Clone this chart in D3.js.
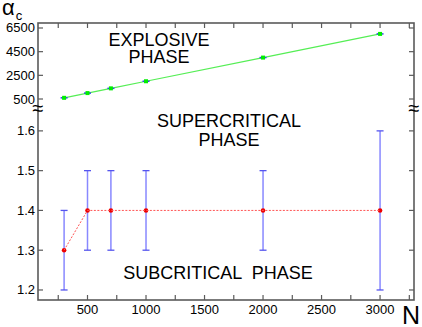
<!DOCTYPE html>
<html>
<head>
<meta charset="utf-8">
<script src="https://cdn.jsdelivr.net/npm/d3@7"></script>
<style>
  body { margin: 0; background: #fff; }
  text { font-family: "Liberation Sans", Arial, sans-serif; fill: #000; }
</style>
</head>
<body>
<div id="chart"></div>
<script>
// data
const sizes = [300, 500, 700, 1000, 2000, 3000];
const explosive = [600, 1000, 1400, 2000, 4000, 6000];
const explosiveErr = [60, 60, 60, 60, 60, 60];
const critical = [1.3, 1.4, 1.4, 1.4, 1.4, 1.4];
const criticalLow = [1.2, 1.3, 1.3, 1.3, 1.3, 1.2];
const criticalHigh = [1.4, 1.5, 1.5, 1.5, 1.5, 1.6];
const xTicks = [250, 500, 750, 1000, 1250, 1500, 1750, 2000, 2250, 2500, 2750, 3000, 3250];
const xLabels = [500, 1000, 1500, 2000, 2500, 3000];
const upperTicks = [500, 2500, 4500, 6500];
const lowerTicks = [1.2, 1.3, 1.4, 1.5, 1.6];

const W = 422, H = 327;
const pLeft = 38, pRight = 414, pTop = 23, pBottom = 300, brk = 108;

const svg = d3.select("#chart").append("svg")
    .attr("width", W).attr("height", H);

const x = d3.scaleLinear().domain([77, 3290]).range([pLeft, pRight]);
const yUp = d3.scaleLinear().domain([-260, 6922]).range([brk, pTop]);
const yLo = d3.scaleLinear().domain([1.1748, 1.655]).range([pBottom, brk + 1]);

const axisColor = "#5a5a5a";
const tickLen = 5;

// frame
svg.append("rect")
    .attr("x", pLeft).attr("y", pTop)
    .attr("width", pRight - pLeft).attr("height", pBottom - pTop)
    .attr("fill", "none").attr("stroke", axisColor).attr("stroke-width", 1.6);

// bottom / top ticks (inward) + labels
const g = svg.append("g");
g.selectAll(".xb").data(xTicks).join("line")
    .attr("x1", d => x(d)).attr("x2", d => x(d))
    .attr("y1", pBottom).attr("y2", pBottom - tickLen)
    .attr("stroke", axisColor).attr("stroke-width", 1.2);
g.selectAll(".xt").data(xTicks).join("line")
    .attr("x1", d => x(d)).attr("x2", d => x(d))
    .attr("y1", pTop).attr("y2", pTop + tickLen)
    .attr("stroke", axisColor).attr("stroke-width", 1.2);
g.selectAll(".xl").data(xLabels).join("text")
    .attr("x", d => x(d)).attr("y", pBottom + 14)
    .attr("text-anchor", "middle").attr("font-size", 13)
    .text(d => d);

// y ticks both panels, left and right, inward
function yTicks(vals, scale, fmt) {
    vals.forEach(v => {
        const yy = scale(v);
        g.append("line").attr("x1", pLeft).attr("x2", pLeft + tickLen)
            .attr("y1", yy).attr("y2", yy).attr("stroke", axisColor).attr("stroke-width", 1.2);
        g.append("line").attr("x1", pRight).attr("x2", pRight - tickLen)
            .attr("y1", yy).attr("y2", yy).attr("stroke", axisColor).attr("stroke-width", 1.2);
        g.append("text").attr("x", pLeft - 3).attr("y", yy + 4.5)
            .attr("text-anchor", "end").attr("font-size", 13)
            .text(fmt(v));
    });
}
yTicks(upperTicks, yUp, d => d);
yTicks(lowerTicks, yLo, d3.format(".1f"));

// axis break marks
[pLeft, pRight].forEach(px => {
    svg.append("text").attr("x", px).attr("y", brk + 7)
        .attr("text-anchor", "middle").attr("font-size", 20)
        .text("\u2248");
});

// upper panel: explosive threshold
const upData = sizes.map((n, i) => ({n, v: explosive[i], e: explosiveErr[i]}));
svg.append("path")
    .datum(upData)
    .attr("fill", "none").attr("stroke", "#55ee55").attr("stroke-width", 1.2)
    .attr("d", d3.line().x(d => x(d.n)).y(d => yUp(d.v)));
const up = svg.append("g");
up.selectAll(".cap").data(upData).join("line")
    .attr("x1", d => x(d.n) - 3.5).attr("x2", d => x(d.n) + 3.5)
    .attr("y1", d => yUp(d.v)).attr("y2", d => yUp(d.v))
    .attr("stroke", "#3344ee").attr("stroke-width", 1.5);
up.selectAll(".pt").data(upData).join("rect")
    .attr("x", d => x(d.n) - 2).attr("y", d => yUp(d.v) - 2)
    .attr("width", 4).attr("height", 4)
    .attr("fill", "#00ee00");

// lower panel: critical value with error bars
const loData = sizes.map((n, i) => ({n, v: critical[i], lo: criticalLow[i], hi: criticalHigh[i]}));
const lo = svg.append("g");
lo.selectAll(".eb").data(loData).join("line")
    .attr("x1", d => x(d.n)).attr("x2", d => x(d.n))
    .attr("y1", d => yLo(d.lo)).attr("y2", d => yLo(d.hi))
    .attr("stroke", "#8888ff").attr("stroke-width", 1.5);
["lo", "hi"].forEach(k => {
    lo.selectAll(".cap-" + k).data(loData).join("line")
        .attr("x1", d => x(d.n) - 3.5).attr("x2", d => x(d.n) + 3.5)
        .attr("y1", d => yLo(d[k])).attr("y2", d => yLo(d[k]))
        .attr("stroke", "#5555ee").attr("stroke-width", 1.3);
});
svg.append("path")
    .datum(loData)
    .attr("fill", "none").attr("stroke", "#ff5555").attr("stroke-width", 1)
    .attr("stroke-dasharray", "2,1.5")
    .attr("d", d3.line().x(d => x(d.n)).y(d => yLo(d.v)));
lo.selectAll(".dot").data(loData).join("circle")
    .attr("cx", d => x(d.n)).attr("cy", d => yLo(d.v)).attr("r", 2.3)
    .attr("fill", "#ee0000");

// phase labels
function label(lines, cx, y0, dy) {
    lines.forEach((t, i) => {
        svg.append("text").attr("x", cx).attr("y", y0 + i * dy)
            .attr("text-anchor", "middle").attr("font-size", 18)
            .attr("xml:space", "preserve")
            .text(t);
    });
}
label(["EXPLOSIVE", "PHASE"], 159, 46, 17);
label(["SUPERCRITICAL", "PHASE"], 229, 127, 19);
label(["SUBCRITICAL  PHASE"], 218, 279, 0);

// axis titles
const a = svg.append("text").attr("x", 2).attr("y", 15).attr("font-size", 22);
a.append("tspan").text("\u03b1");
a.append("tspan").attr("font-size", 13).attr("dy", 5).attr("dx", 1).text("c");
svg.append("text").attr("x", 402).attr("y", 324).attr("font-size", 25).text("N");
</script>
</body>
</html>
